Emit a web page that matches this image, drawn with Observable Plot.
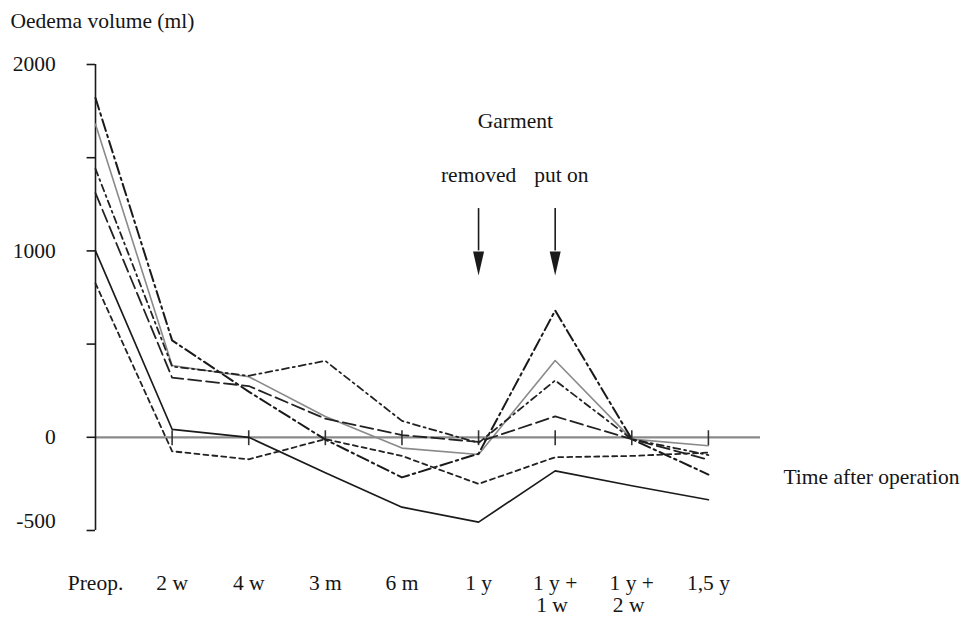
<!DOCTYPE html>
<html><head><meta charset="utf-8">
<script src="https://cdn.jsdelivr.net/npm/d3@7"></script>
<script src="https://cdn.jsdelivr.net/npm/@observablehq/plot@0.6"></script>
<style>body{margin:0;background:#fff}</style>
</head><body><div id="chart"></div>
<script>
// ---- data ----
const categories = ["Preop.", "2 w", "4 w", "3 m", "6 m", "1 y", "1 y +\n1 w", "1 y +\n2 w", "1,5 y"];
const patientSolid    = [1000,  43,    0, -190, -375, -455, -180, -260, -335];
const patientGrey     = [1680, 385,  325,  112,  -58,  -92,  412,  -10,  -45];
const patientDashDot  = [1820, 520,  245,  -12, -215,  -88,  680,  -10, -200];
const patientDashDot2 = [1440, 380,  330,  410,   88,  -30,  305,  -10,  -95];
const patientLongDash = [1310, 320,  275,  100,   12,  -25,  112,  -10, -120];
const patientShortDash= [ 826, -75, -118,  -10, -100, -250, -107, -100,  -82];
const yTicks = [-500, 0, 500, 1000, 1500, 2000];
const yTickLabels = ["-500", "0", "", "1000", "", "2000"];
const arrowCategories = [5, 6];
const arrowLabels = ["removed", "put on"];

const seriesNames = ["solid", "grey", "dashdot", "dashdot2", "longdash", "shortdash"];
const seriesValues = [patientSolid, patientGrey, patientDashDot, patientDashDot2, patientLongDash, patientShortDash];
const styles = {
  solid:     {stroke: "#1a1a1a", strokeWidth: 1.7},
  grey:      {stroke: "#8a8a8a", strokeWidth: 1.6},
  dashdot:   {stroke: "#1a1a1a", strokeWidth: 2, strokeDasharray: "12,4,2.5,4"},
  dashdot2:  {stroke: "#222", strokeWidth: 1.8, strokeDasharray: "7,4,2,4"},
  longdash:  {stroke: "#222", strokeWidth: 1.8, strokeDasharray: "13,5"},
  shortdash: {stroke: "#222", strokeWidth: 1.8, strokeDasharray: "5,4"}
};

const rows = seriesNames.flatMap((s, k) => seriesValues[k].map((v, i) => ({series: s, i, v})));
const catRows1 = categories.map((c, i) => ({i, label: c.split("\n")[0]}));
const catRows2 = categories.map((c, i) => ({i, label: c.split("\n")[1] || ""})).filter(d => d.label);
const yRows = yTicks.map((v, k) => ({v, label: yTickLabels[k]}));

const font = "Liberation Serif, Times New Roman, serif";
const fs = 21.5;
const ink = "#151515";
const xEnd = 8.68;

const arrowHead = {
  draw(ctx) {
    ctx.moveTo(-5.5, -24);
    ctx.lineTo(5.5, -24);
    ctx.lineTo(0, 0);
    ctx.closePath();
  }
};

const marks = [
  // zero line
  Plot.ruleY([0], {x1: 0, x2: xEnd, stroke: "#8a8a8a", strokeWidth: 2.2}),
  // x ticks
  Plot.ruleX(d3.range(1, categories.length), {x: d => d, y1: 35, y2: -45, stroke: "#333", strokeWidth: 1.6}),
  // y axis
  Plot.ruleX([0], {y1: -500, y2: 2000, stroke: "#1a1a1a", strokeWidth: 1.6}),
  Plot.ruleY(yRows, {y: "v", x1: -0.11, x2: 0, stroke: "#1a1a1a", strokeWidth: 1.6}),
  Plot.text(yRows.filter(d => d.v >= 0), {x: -0.52, y: "v", text: "label", textAnchor: "end",
    fontFamily: font, fontSize: fs, fill: ink}),
  Plot.text(yRows.filter(d => d.v < 0), {x: -0.52, y: "v", text: "label", textAnchor: "end", dy: -9,
    fontFamily: font, fontSize: fs, fill: ink}),
  // x labels
  Plot.text(catRows1, {x: "i", y: -780, text: "label",
    fontFamily: font, fontSize: fs, fill: ink}),
  Plot.text(catRows2, {x: "i", y: -898, text: "label", textAnchor: "start", dx: -19,
    fontFamily: font, fontSize: fs, fill: ink}),
  // series
  ...seriesNames.map(s => Plot.line(rows.filter(r => r.series === s), {x: "i", y: "v", ...styles[s]})),
  // titles
  Plot.text(["Oedema volume (ml)"], {x: -1.11, y: 2231, text: d => d, textAnchor: "start",
    fontFamily: font, fontSize: fs, fill: ink}),
  Plot.text(["Time after operation"], {x: 8.98, y: -216, text: d => d, textAnchor: "start",
    fontFamily: font, fontSize: fs, fill: ink}),
  // garment annotation
  Plot.text(["Garment"], {x: 5.48, y: 1694, text: d => d, fontFamily: font, fontSize: fs, fill: ink}),
  Plot.text(arrowCategories.map((c, k) => ({c, label: arrowLabels[k]})), {x: d => d.c === 5 ? 5.0 : 6.08, y: 1404, text: "label",
    fontFamily: font, fontSize: fs, fill: ink}),
  Plot.ruleX(arrowCategories, {x: d => d, y1: 1227, y2: 1000, stroke: "#1a1a1a", strokeWidth: 1.6}),
  Plot.dot(arrowCategories, {x: d => d, y: 868, symbol: arrowHead, fill: "#1a1a1a", stroke: "none", r: 5})
];

const chart = Plot.plot({
  width: 966,
  height: 619,
  marginLeft: 0, marginRight: 0, marginTop: 0, marginBottom: 0,
  x: {type: "linear", domain: [0, xEnd], range: [95, 760], axis: null},
  y: {type: "linear", domain: [-500, 2000], range: [530, 64], axis: null},
  style: {background: "#fff", fontFamily: font},
  marks
});
document.getElementById("chart").appendChild(chart);
</script>
</body></html>
